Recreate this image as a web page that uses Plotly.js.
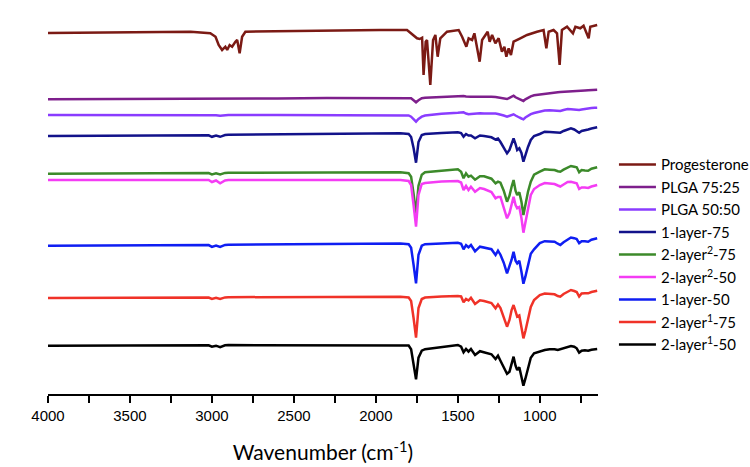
<!DOCTYPE html>
<html>
<head>
<meta charset="utf-8">
<script src="https://cdn.plot.ly/plotly-3.0.1.min.js"></script>
<style>html,body{margin:0;padding:0;background:#fff;}#chart{width:750px;height:467px;}</style>
</head>
<body>
<div id="chart"></div>
<script>
// Series names (legend order, top to bottom)
const seriesNames = ["Progesterone", "PLGA 75:25", "PLGA 50:50", "1-layer-75",
  "2-layer<sup>2</sup>-75", "2-layer<sup>2</sup>-50", "1-layer-50",
  "2-layer<sup>1</sup>-75", "2-layer<sup>1</sup>-50"];
const seriesColors = ["#7B1A14", "#7E1F8C", "#8A3CFF", "#12128A", "#3C8A2A",
  "#F43CF4", "#0F1EF2", "#F03228", "#000000"];
// Vertical stacking offsets (a.u.)
const offsets = [370, 303.7, 288, 267, 229.3, 223, 157.3, 105, 57.3];

// Progesterone spectrum (cm-1, relative transmittance a.u.)
const progWn = [4000, 3500, 3130, 3010, 2978, 2959, 2938, 2918, 2907, 2892,
  2877, 2857, 2846, 2831, 2816, 2796, 2520, 1973, 1810, 1770,
  1749, 1733, 1718, 1709, 1696, 1688, 1668, 1651, 1637, 1623,
  1607, 1566, 1495, 1474, 1448, 1434, 1413, 1399, 1383, 1367,
  1352, 1338, 1318, 1306, 1291, 1271, 1251, 1231, 1216, 1204,
  1190, 1176, 1160, 1119, 1078, 1017, 977, 960, 946, 916,
  895, 879, 865, 834, 798, 783, 753, 733, 702, 692,
  662, 650];
const progT = [0, 0.5, 1.3, -0.3, -3.7, -12, -17, -13.7, -17, -12,
  -13.7, -8.7, -7, -20.3, -3.7, 1.3, 2, 3, 3, -2,
  -5.3, -6, -4.7, -42, -8.7, -7, -52, -7, -2, -23.7,
  -5.3, 1.3, 3, -3.7, -13.7, -5.3, -7, -0.3, -13.7, -28.7,
  -7, -3.7, 1.3, -8.7, -2, -10.3, -5.3, -18.7, -13.7, -23.7,
  -15.3, -22, -8.7, -5.3, -2, 1.3, 3, -15.3, 1.3, 3,
  -0.3, -32, 3, 6.3, -0.3, 6.3, 4.7, 7.3, -5.3, 6.3,
  7.3, 8];

// Common wavenumber grid for polymer and layer spectra
const wavenumber = [4000, 3500, 3100, 3020, 3000, 2975, 2950, 2920, 2900, 2600,
  2300, 2000, 1850, 1800, 1785, 1770, 1755, 1740, 1720, 1700,
  1650, 1600, 1500, 1480, 1465, 1450, 1435, 1420, 1395, 1365,
  1340, 1320, 1295, 1270, 1255, 1240, 1220, 1200, 1185, 1172,
  1160, 1148, 1138, 1125, 1112, 1100, 1088, 1072, 1055, 1035,
  1000, 970, 940, 910, 890, 875, 855, 830, 810, 790,
  775, 760, 745, 725, 705, 685, 665, 650];

const plga7525 = [0, 0.3, 0.6, 0.6, 0, 0.3, 0, 0.6, 0.7, 0.9,
  1.2, 1.5, 1.6, 1.4, 1, -1, -3, -1, 1, 1.5,
  2, 2.5, 3, 3, 3.3, 2.8, 3, 2.5, 2.6, 2.8,
  2.6, 2.6, 2.6, 2.3, 2, 1.5, 1, 0.3, 1.5, 2.5,
  3.6, 2, 1.2, 0, -1, -1.7, 0, 1.5, 3, 4,
  4.8, 5.8, 6.2, 6.5, 7, 7.2, 7.5, 7.6, 7.8, 8,
  8.2, 8.3, 8.5, 8.8, 9, 9.3, 9.5, 9.6];
const plga5050 = [0, 0, 0.2, 0, -0.5, -0.2, -0.8, 0, 0, 0,
  0, 0, 0, -0.5, -1.7, -4, -6.7, -4, -1.7, -0.5,
  0.7, 1.2, 2.2, 2.5, 2.7, 1.5, 0.7, 1, 1.5, 1.7,
  1.5, 1.7, 1.7, 1.5, 1, 0.5, -0.5, -1.7, -0.5, 0.3,
  0.7, -0.5, -1.7, -2.5, -3.5, -4.3, -2.5, -0.7, 0.8, 2,
  3.5, 4.5, 4.8, 4.5, 4, 4, 5, 6, 5.8, 5.2,
  5, 5, 5.5, 6.2, 6.8, 7, 7.2, 7.3];
const layer1_75 = [0, 0.3, 0.8, 0.7, -0.8, 0.5, -0.8, 1, 1.2, 1.5,
  2, 2.6, 2.7, 2, -1, -12, -26.7, -6, 1, 2,
  2.7, 3, 3.7, 3, -0.7, 2, 0.5, 0.5, -2.3, 0.5,
  0, -0.5, -1.3, -3.5, -2.5, -6, -11, -17.3, -14, -7,
  -2.3, -8, -14, -12.3, -17, -25.7, -19, -11, -4, 0,
  2, 4.3, 4, 3.5, 3, 3.3, 5, 6.5, 7.7, 6.5,
  5, 3.3, 5, 5.5, 6.5, 7.5, 8.2, 8.7];
const layer2b_75 = [0, 0.2, 0.6, 0.6, -0.7, 0.3, -0.7, 0.8, 1, 1,
  1.2, 1.4, 1.4, 0.5, -3, -20, -40, -12, -1, 1.5,
  2.5, 3, 4.4, 2, -4.6, 0.4, -3, -2, -6, -2.5,
  -2.5, -3.5, -5, -9.6, -8, -9, -17, -28, -22, -13,
  -6.3, -17, -21.3, -18.5, -28, -41.3, -31, -18, -8, -1,
  2, 4.4, 4, 3.7, 2.5, 2, 4, 6, 7.7, 7,
  6.4, 1.5, 3.7, 3.2, 3, 5, 6, 6.4];
const layer2b_50 = [0, 0, 0.3, 0, -2, -0.5, -3.3, -0.5, 0, 0,
  0, 0, 0, -1, -5, -25, -46.7, -15, -4, -3,
  -2, -1.5, -1, -2.5, -10, -6, -10, -6.7, -11.7, -8,
  -9, -10, -12, -18.3, -17, -17, -27, -38.3, -33, -24,
  -16.7, -25, -28.3, -27, -38, -52.7, -42, -28, -15, -9,
  -5, -3, -3.5, -4, -5.5, -6.5, -4.5, -2, -1.7, -2.5,
  -3.3, -9, -7.5, -7.5, -8, -6.5, -5.5, -5];
const layer1_50 = [0, 0.3, 0.8, 0.6, -1.2, 0.2, -1.3, 0.8, 1, 1.2,
  1.6, 2.2, 2.2, 1.5, -2, -19, -37.6, -9, 0, 1.5,
  2, 2.5, 3, 2, -3.6, 0.5, -1.6, 0.7, -5.6, -1,
  -2, -2.6, -3.5, -9.3, -5, -9, -17, -27.6, -21, -14,
  -6, -15, -17.6, -15, -26, -38, -31, -19, -8, -3.6,
  2.6, 4.5, 4.2, 4, 2, 0.7, 3.5, 6, 8.2, 7.5,
  6.6, 2.5, 4.5, 4.5, 4, 6, 7, 7.5];
const layer2a_75 = [0, 0.2, 0.5, 0.5, -1, 0.3, -1, 0.6, 0.8, 0.8,
  1, 1.3, 1.3, 0.5, -3, -20, -39.7, -10, -1, 0.5,
  1.2, 1.5, 2, 1.5, -4.3, -1, -2.5, 0.3, -6, -2.3,
  -3, -3.7, -5, -10.3, -6.5, -10, -19, -28.7, -22, -12,
  -7, -15, -18.7, -17.5, -28, -40.3, -33, -20, -9, -2,
  3, 4.5, 4.2, 3.7, 2, 1.3, 4, 6.5, 8, 7,
  6, 1.5, 4.5, 4.7, 4.7, 6, 7, 7.2];
const layer2a_50 = [0, 0.2, 0.5, 0.4, -1, 0, -1.5, 0.4, 0.6, 0.6,
  0.7, 0.7, 0.7, 0.2, -3.5, -18, -33.6, -12, -5, -3.5,
  -2.5, -1.5, 0.7, -1, -6.6, -3.3, -6, -3.3, -9.3, -5.5,
  -6.5, -7.6, -8.6, -13.3, -10, -15, -22, -28, -26, -18,
  -11, -20, -24.3, -21.5, -30, -40, -33, -22, -12, -7.6,
  -5.5, -4.3, -3.5, -3.5, -4.3, -3.5, -2.5, -1.5, -0.3, -1,
  -2.6, -7, -5, -4.5, -5, -4, -3.5, -3.3];

const seriesX = [progWn, wavenumber, wavenumber, wavenumber, wavenumber,
  wavenumber, wavenumber, wavenumber, wavenumber];
const seriesY = [progT, plga7525, plga5050, layer1_75, layer2b_75,
  layer2b_50, layer1_50, layer2a_75, layer2a_50];

const traces = seriesNames.map((name, i) => ({
  type: 'scatter',
  mode: 'lines',
  name: name,
  x: seriesX[i],
  y: seriesY[i].map(v => v + offsets[i]),
  line: {color: seriesColors[i], width: 2.5},
  hoverinfo: 'x+name'
}));

const layout = {
  width: 750,
  height: 467,
  margin: {l: 48, r: 152, t: 20, b: 73, autoexpand: false},
  paper_bgcolor: '#ffffff',
  plot_bgcolor: '#ffffff',
  showlegend: true,
  legend: {
    x: 1.029, xanchor: 'left',
    y: 0.657, yanchor: 'top',
    font: {family: 'Lato, "Open Sans", sans-serif', size: 15, color: '#000'},
    bgcolor: 'rgba(0,0,0,0)',
    tracegroupgap: 0,
    itemwidth: 37
  },
  xaxis: {
    range: [4000, 645],
    tick0: 0,
    dtick: 500,
    ticks: 'outside',
    ticklen: 7,
    tickwidth: 1.5,
    tickcolor: '#000',
    showline: true,
    linecolor: '#000',
    linewidth: 1.5,
    showgrid: false,
    zeroline: false,
    automargin: false,
    tickfont: {family: '"Liberation Sans", Arial, sans-serif', size: 15, color: '#000'},
    minor: {dtick: 250, ticks: 'outside', ticklen: 7, tickwidth: 1.5, tickcolor: '#000', showgrid: false},
    title: {
      text: 'Wavenumber (cm<sup>-1</sup>)',
      font: {family: 'Lato, "Open Sans", sans-serif', size: 21, color: '#000'},
      standoff: 23
    }
  },
  yaxis: {
    visible: false,
    range: [9, 383],
    fixedrange: true
  }
};

Plotly.newPlot('chart', traces, layout, {displayModeBar: false, staticPlot: true});
</script>
</body>
</html>
